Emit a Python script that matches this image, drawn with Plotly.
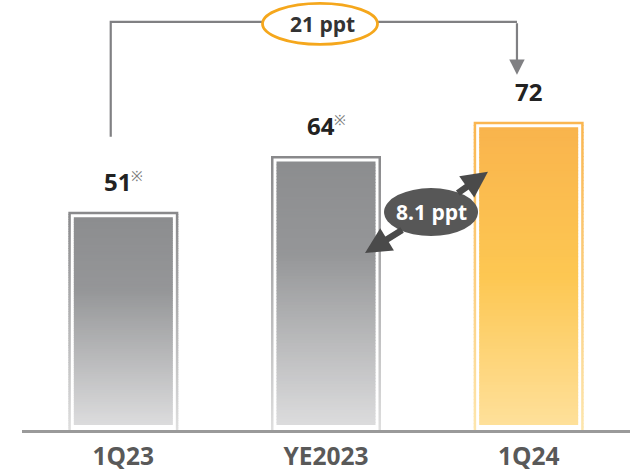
import plotly.graph_objects as go

# ---- data -------------------------------------------------------------
categories = ["1Q23", "YE2023", "1Q24"]
values = [51, 64, 72]
has_note = [True, True, False]
total_change = "21 ppt"
recent_change = "8.1 ppt"

# ---- canvas -----------------------------------------------------------
W, H = 644, 473
M_L, M_R, M_T, M_B = 22, 14, 0, 43
Y_MAX = 100.47
PX_Y = (H - M_T - M_B) / Y_MAX          # pixels per value unit
PX_X = (W - M_L - M_R) / len(categories)  # pixels per category slot


def dy(p):
    return p / PX_Y


def dx(p):
    return p / PX_X


def _rgb(h):
    h = h.lstrip("#")
    return [int(h[i:i + 2], 16) for i in (0, 2, 4)]


def ramp(stops, t):
    for (t0, c0), (t1, c1) in zip(stops[:-1], stops[1:]):
        if t <= t1:
            f = 0 if t1 == t0 else (t - t0) / (t1 - t0)
            a, b = _rgb(c0), _rgb(c1)
            return "rgb(%d,%d,%d)" % tuple(round(a[k] + (b[k] - a[k]) * f) for k in range(3))
    return stops[-1][1]


GRAY_EDGE = [(0, "#89898b"), (1, "#dedede")]
GRAY_FILL = [(0, "#8c8d8f"), (0.35, "#959698"), (1, "#dcdcdd")]
GOLD_EDGE = [(0, "#fab650"), (1, "#fde6ae")]
GOLD_FILL = [(0, "#f9b44d"), (0.5, "#fdc752"), (1, "#fee09a")]

edge_stops = [GRAY_EDGE, GRAY_EDGE, GOLD_EDGE]
fill_stops = [GRAY_FILL, GRAY_FILL, GOLD_FILL]


def gradient_bars(tops, bottoms, stops_list, width, n=90):
    """Vertical gradient bar: each bar split into thin stacked slices."""
    xs, hs, bases, cols = [], [], [], []
    for i, (top, bot, stops) in enumerate(zip(tops, bottoms, stops_list)):
        h = (top - bot) / n
        for k in range(n):
            b = top - (k + 1) * h
            ext = dy(0.8) if k < n - 1 else 0
            xs.append(i)
            hs.append(h + ext)
            bases.append(b - ext)
            cols.append(ramp(stops, (k + 0.5) / n))
    return go.Bar(x=xs, y=hs, base=bases, width=width,
                  marker=dict(color=cols, line=dict(width=0)),
                  hoverinfo="skip", showlegend=False)


BAR_W = 110
EDGE = 2.5
INSET = 5.5

fig = go.Figure()
# outer frame
fig.add_trace(gradient_bars(values, [0] * 3, edge_stops, dx(BAR_W)))
# white gap inside the frame
fig.add_trace(go.Bar(x=list(range(3)), y=[v - dy(EDGE) for v in values], base=0,
                     width=dx(BAR_W - 2 * EDGE),
                     marker=dict(color="white", line=dict(width=0)),
                     hoverinfo="skip", showlegend=False))
# inner gradient fill
fig.add_trace(gradient_bars([v - dy(INSET) for v in values], [dy(5)] * 3,
                            fill_stops, dx(BAR_W - 2 * INSET)))

# ---- value labels -----------------------------------------------------
for i, (v, note) in enumerate(zip(values, has_note)):
    txt = "<b>%d</b>" % v
    if note:
        txt += "<sup><span style='font-size:14px;color:#7c7c7c'>※</span></sup>"
    fig.add_annotation(x=i, y=v, yanchor="bottom", yshift=12, text=txt,
                       showarrow=False,
                       font=dict(family="Open Sans", size=24, color="#222222"))

# ---- bracket from first to last period ------------------------------------
x_l = 0 - dx(12.6)
x_r = 2 - dx(11.7)
y_top = values[2] + dy(100)
y_l_bot = values[0] + dy(75)
y_tip = values[2] + dy(47)
fig.add_shape(type="path", xref="x", yref="y",
              path="M %f,%f L %f,%f L %f,%f" % (x_l, y_l_bot, x_l, y_top, x_r, y_top),
              line=dict(color="#808083", width=2.2))
fig.add_annotation(x=x_r, y=y_tip, ax=x_r, ay=y_top, xref="x", yref="y",
                   axref="x", ayref="y", text="", showarrow=True,
                   arrowhead=2, arrowsize=1.4, arrowwidth=2.2, arrowcolor="#808083")

cx1, cy1 = 1 - dx(6), y_top - dy(2)
fig.add_shape(type="circle", xref="x", yref="y",
              xsizemode="pixel", ysizemode="pixel", xanchor=cx1, yanchor=cy1,
              x0=-57.5, x1=57.5, y0=-20.5, y1=20.5,
              fillcolor="white", line=dict(color="#f5a71c", width=2.8))
fig.add_annotation(x=cx1 + dx(2), y=cy1, text="<b>%s</b>" % total_change, showarrow=False,
                   font=dict(family="Open Sans", size=21, color="#333333"))

# ---- change between last two periods --------------------------------------
cx2, cy2 = 1.5 + dx(3.7), values[1] - dy(56)
RX, RY = 47, 24
lo_tip = (1 + dx(39), values[1] - dy(97))
hi_tip = (2 - dx(40.7), values[2] - dy(50))
for tx, ty in (lo_tip, hi_tip):
    # start each arrow on the ellipse outline, pointing outward
    px, py = (tx - cx2) * PX_X, (ty - cy2) * PX_Y
    t = 1 / ((px / RX) ** 2 + (py / RY) ** 2) ** 0.5 * 0.92
    fig.add_annotation(x=tx, y=ty, ax=cx2 + px * t / PX_X, ay=cy2 + py * t / PX_Y,
                       xref="x", yref="y", axref="x", ayref="y", text="",
                       showarrow=True, arrowhead=2, arrowsize=0.8, arrowwidth=6.5,
                       arrowcolor="#4a4a4a")
fig.add_shape(type="circle", xref="x", yref="y",
              xsizemode="pixel", ysizemode="pixel", xanchor=cx2, yanchor=cy2,
              x0=-RX, x1=RX, y0=-RY, y1=RY,
              fillcolor="#575757", line=dict(width=0))
fig.add_annotation(x=cx2, y=cy2, text="<b>%s</b>" % recent_change, showarrow=False,
                   font=dict(family="Open Sans", size=21, color="white"))

# ---- layout -----------------------------------------------------------
fig.update_layout(
    width=W, height=H, autosize=False,
    margin=dict(l=M_L, r=M_R, t=M_T, b=M_B, pad=0, autoexpand=False),
    paper_bgcolor="white", plot_bgcolor="white",
    barmode="overlay", showlegend=False,
    xaxis=dict(range=[-0.5, 2.5], tickvals=[0, 1, 2],
               ticktext=["<b>%s</b>" % c for c in categories],
               tickfont=dict(family="Open Sans", size=24.5, color="#595959"),
               ticklabelstandoff=3, automargin=False,
               showline=True, linecolor="#9a9a9a", linewidth=2.5,
               showgrid=False, zeroline=False, ticks="", fixedrange=True),
    yaxis=dict(range=[0, Y_MAX], visible=False, fixedrange=True),
)

fig.write_html("out.html", config={"displayModeBar": False})
